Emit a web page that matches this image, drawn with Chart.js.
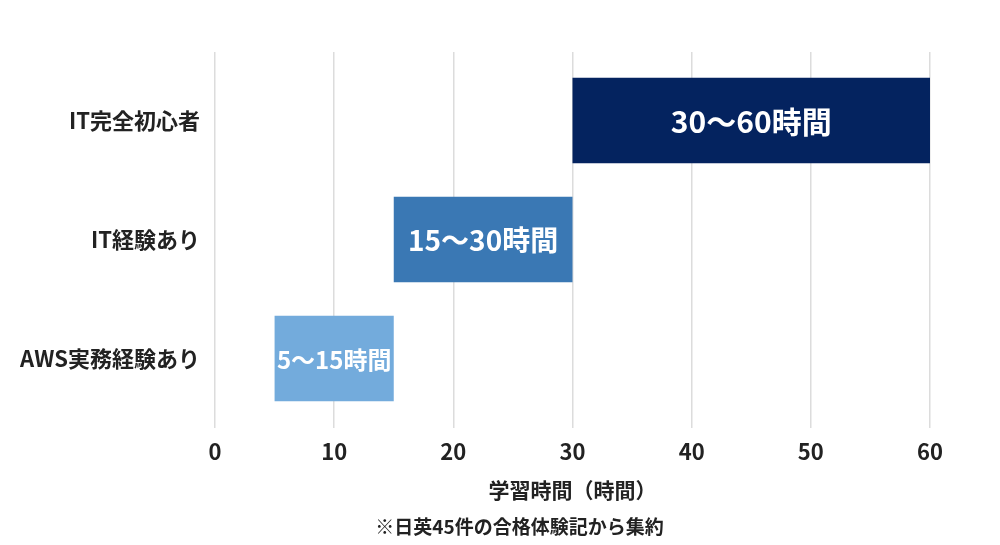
<!DOCTYPE html>
<html lang="ja">
<head>
<meta charset="utf-8">
<title>学習時間</title>
<script src="https://cdn.jsdelivr.net/npm/chart.js@4.4.1/dist/chart.umd.min.js"></script>
<style>
  html, body { margin: 0; padding: 0; background: #fff; }
  #wrap { position: relative; width: 1000px; height: 545px; }
</style>
</head>
<body>
<div id="wrap"><canvas id="chart"></canvas></div>
<script>
const categories = ['IT完全初心者', 'IT経験あり', 'AWS実務経験あり'];
const startHours = [30, 15, 5];
const endHours = [60, 30, 15];
const xTicks = [0, 10, 20, 30, 40, 50, 60];
const axisTitle = '学習時間（時間）';
const sourceNote = '※日英45件の合格体験記から集約';

const FONT = "'Noto Sans CJK JP', 'Noto Sans', sans-serif";
const barColors = ['#04235f', '#3a78b4', '#73abdc'];
const labelSizes = [30, 28, 24];

// white range text in the middle of each bar
const barText = {
  id: 'barText',
  afterDatasetsDraw(chart) {
    const { ctx } = chart;
    const meta = chart.getDatasetMeta(0);
    ctx.save();
    ctx.fillStyle = '#ffffff';
    ctx.textAlign = 'center';
    ctx.textBaseline = 'middle';
    meta.data.forEach((bar, i) => {
      const { x, y, base } = bar.getProps(['x', 'y', 'base'], true);
      ctx.font = `bold ${labelSizes[i]}px ${FONT}`;
      ctx.fillText(`${startHours[i]}〜${endHours[i]}時間`, (x + base) / 2, y + 1);
    });
    ctx.restore();
  },
};

// source note under the axis title
const noteText = {
  id: 'noteText',
  afterDraw(chart) {
    const { ctx, chartArea } = chart;
    ctx.save();
    ctx.fillStyle = '#222222';
    ctx.textAlign = 'center';
    ctx.textBaseline = 'middle';
    ctx.font = `bold 19px ${FONT}`;
    ctx.fillText(sourceNote, (chartArea.left + chartArea.right) / 2 - 53, 527);
    ctx.restore();
  },
};

const data = {
  labels: categories,
  datasets: [{
    data: categories.map((c, i) => [startHours[i], endHours[i]]),
    backgroundColor: barColors,
    borderWidth: 0,
    barPercentage: 0.72,
    categoryPercentage: 1,
  }],
};

const gridColor = '#dcdcdc';

const options = {
  indexAxis: 'y',
  responsive: true,
  maintainAspectRatio: false,
  animation: false,
  layout: {
    padding: { left: 20, right: 70, top: 52, bottom: 40 },
  },
  plugins: {
    legend: { display: false },
    tooltip: { enabled: false },
  },
  scales: {
    x: {
      type: 'linear',
      position: 'bottom',
      min: 0,
      max: 60,
      afterBuildTicks(scale) {
        scale.ticks = xTicks.map((v) => ({ value: v }));
      },
      afterFit(scale) {
        scale.height = 87;
      },
      border: { display: false },
      grid: { color: gridColor, lineWidth: 1.5, tickLength: 10 },
      ticks: {
        padding: 10,
        color: '#222222',
        font: { family: FONT, size: 22, weight: 'bold' },
      },
      title: {
        display: true,
        text: axisTitle,
        color: '#222222',
        padding: { top: 0, bottom: 2 },
        font: { family: FONT, size: 21, weight: 'bold' },
      },
    },
    x2: {
      type: 'linear',
      position: 'top',
      min: 0,
      max: 60,
      afterBuildTicks(scale) {
        scale.ticks = xTicks.map((v) => ({ value: v }));
      },
      border: { display: false },
      grid: { color: gridColor, lineWidth: 1.5, tickLength: 9, drawOnChartArea: false },
      ticks: { display: false },
    },
    y: {
      afterFit(scale) {
        scale.width = 195;
      },
      border: { display: false },
      grid: { display: false, drawTicks: false },
      ticks: {
        padding: 15,
        color: '#222222',
        font: { family: FONT, size: 22, weight: 'bold' },
      },
    },
  },
};

new Chart(document.getElementById('chart'), {
  type: 'bar',
  data,
  options,
  plugins: [barText, noteText],
});
</script>
</body>
</html>
